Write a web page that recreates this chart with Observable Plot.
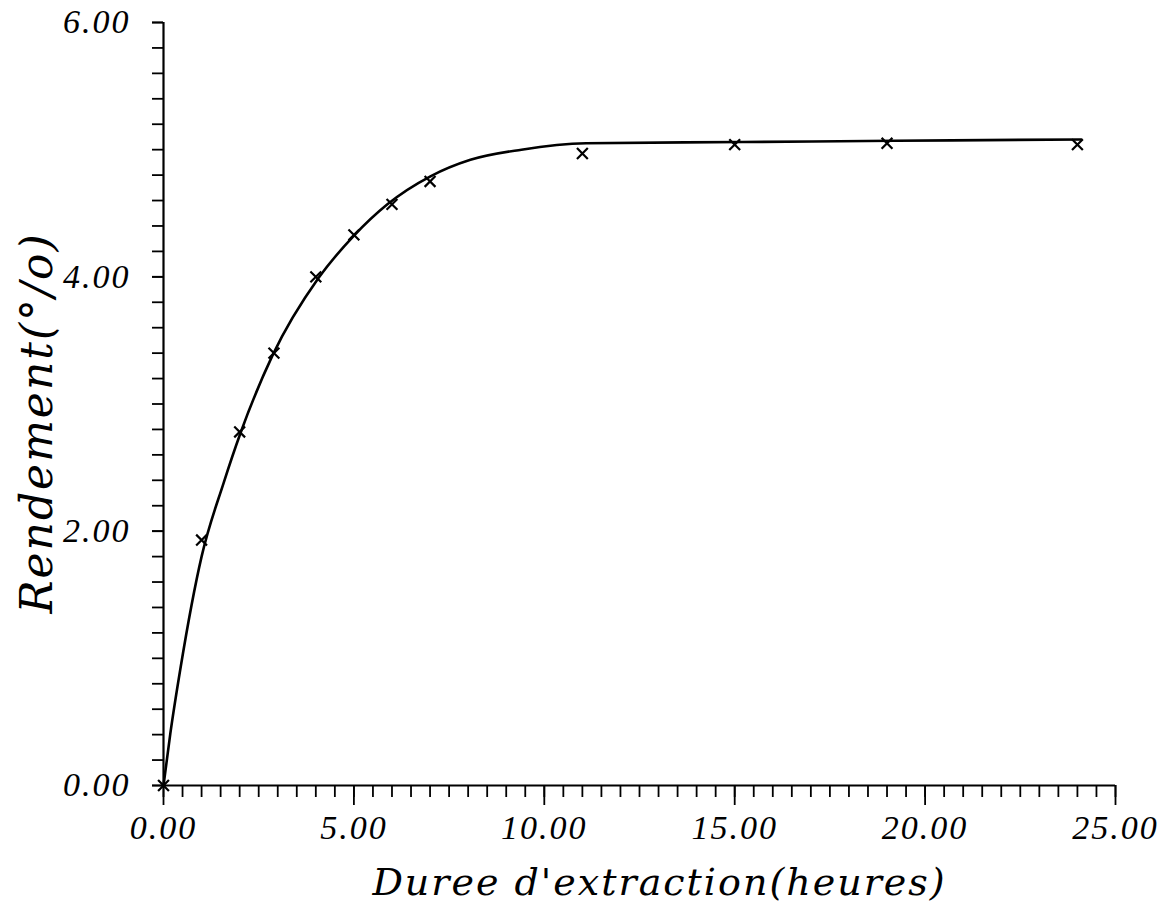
<!DOCTYPE html>
<html><head><meta charset="utf-8">
<script src="https://cdn.jsdelivr.net/npm/d3@7"></script>
<script src="https://cdn.jsdelivr.net/npm/@observablehq/plot@0.6"></script>
<style>body{margin:0;background:#fff} #chart svg{display:block} #chart svg text{letter-spacing:2px}</style>
</head><body><div id="chart"></div>
<script>
// measured points (x marks)
const hours = [0, 1, 2, 2.9, 4, 5, 6, 7, 11, 15, 19, 24];
const rendement = [0, 1.93, 2.78, 3.40, 4.00, 4.33, 4.57, 4.75, 4.97, 5.04, 5.05, 5.04];
// fitted curve
const curveHours = [0, 0.18, 0.45, 1.0, 1.58, 2.02, 2.86, 4.07, 4.99, 5.88, 7.01, 8.06, 9.4, 11.1, 15.2, 19.2, 24.1];
const curveRendement = [0, 0.41, 0.93, 1.80, 2.38, 2.77, 3.38, 3.99, 4.32, 4.57, 4.79, 4.92, 5.00, 5.05, 5.06, 5.07, 5.08];
// axes
const xMajorTicks = [0, 5, 10, 15, 20, 25];
const xTickLabels = ["0.00", "5.00", "10.00", "15.00", "20.00", "25.00"];
const yMajorTicks = [0, 2, 4, 6];
const yTickLabels = ["0.00", "2.00", "4.00", "6.00"];
const xMinorTicks = d3.range(0, 25.001, 0.5);
const yMinorTicks = d3.range(0, 6.001, 0.2);
const xTitle = "Duree d'extraction(heures)";
const yTitle = "Rendement(°/o)";

const points = hours.map((h, i) => ({h, r: rendement[i]}));
const curve = curveHours.map((h, i) => ({h, r: curveRendement[i]}));
const titleFont = "DejaVu Serif";
const tickFont = "Liberation Serif";

const chart = Plot.plot({
  width: 1159,
  height: 903,
  marginLeft: 163,
  marginRight: 44,
  marginTop: 22,
  marginBottom: 118,
  style: {fontFamily: tickFont, fontStyle: "italic", background: "#fff", color: "#000"},
  x: {domain: [0, 25]},
  y: {domain: [0, 6]},
  marks: [
    Plot.axisX(xMinorTicks, {tickSize: 12, strokeWidth: 1.8, tickFormat: () => "", label: null}),
    Plot.axisX(xMajorTicks, {tickSize: 20, strokeWidth: 1.8, tickPadding: 9, fontSize: 34,
      tickFormat: d => xTickLabels[xMajorTicks.indexOf(d)], label: null}),
    Plot.axisY(yMinorTicks, {tickSize: 11, strokeWidth: 1.8, tickFormat: () => "", label: null}),
    Plot.axisY(yMajorTicks, {tickSize: 11, strokeWidth: 1.8, tickPadding: 22, fontSize: 34,
      tickFormat: d => yTickLabels[yMajorTicks.indexOf(d)], label: null}),
    Plot.ruleY([0], {x1: 0, x2: 25, strokeWidth: 2.2}),
    Plot.ruleX([0], {y1: 0, y2: 6, strokeWidth: 2.2}),
    Plot.line(curve, {x: "h", y: "r", curve: "monotone-x", strokeWidth: 2.6, stroke: "#000"}),
    Plot.dot(points, {x: "h", y: "r", symbol: "times", r: 5, stroke: "#000", strokeWidth: 2.2}),
    Plot.text([xTitle], {frameAnchor: "bottom", dx: 20, dy: 97, lineAnchor: "middle", fontSize: 38, fontStyle: "italic", fontFamily: titleFont}),
    Plot.text([yTitle], {frameAnchor: "left", dx: -126, dy: 19, textAnchor: "middle", rotate: -90, fontSize: 44, fontStyle: "italic", fontFamily: titleFont})
  ]
});
document.getElementById("chart").append(chart);
</script>
</body></html>
